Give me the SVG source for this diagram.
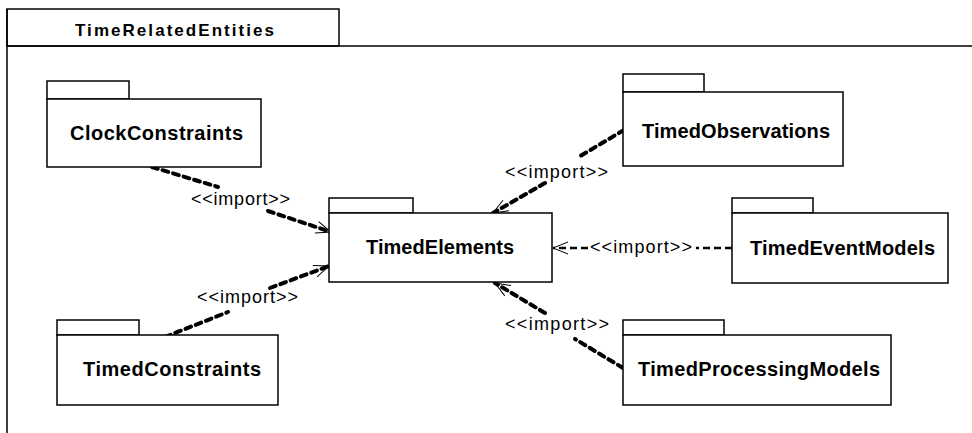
<svg xmlns="http://www.w3.org/2000/svg" width="972" height="433" viewBox="0 0 972 433">
<defs>
<style>
.box{fill:#fff;stroke:#000;stroke-width:1.5}
.frame{fill:none;stroke:#000;stroke-width:1.5}
.name{font-family:"Liberation Sans",Arial,sans-serif;font-weight:bold;font-size:20px;fill:#000}
.title{font-family:"Liberation Sans",Arial,sans-serif;font-weight:bold;font-size:17px;fill:#000}
.lbl{font-family:"Liberation Sans",Arial,sans-serif;font-size:18px;fill:#000}
.dep{fill:none;stroke:#000;stroke-width:4;stroke-dasharray:6 5;stroke-linecap:round}
.dep.thin{stroke-width:2.5;stroke-dasharray:7 4;stroke-linecap:butt}
</style>
<marker id="open" markerUnits="userSpaceOnUse" markerWidth="20" markerHeight="20" viewBox="-16 -10 20 20" refX="0" refY="0" orient="auto">
<path d="M-15,-6 L0,0 L-15,6" fill="none" stroke="#000" stroke-width="1" stroke-dasharray="none"/>
</marker>
</defs>
<rect width="972" height="433" fill="#fff"/>
<g id="frame">
<rect class="frame" x="7" y="9" width="332" height="37"/>
<path class="frame" d="M7,46 H972 M7,9 V433"/>
<text class="title" x="75" y="36" textLength="199" lengthAdjust="spacing">TimeRelatedEntities</text>
</g>
<g id="connectors">
<path class="dep" d="M152,167 L218,187"/>
<path class="dep" d="M268,211 L331,232" marker-end="url(#open)"/>
<text class="lbl" x="191" y="205" textLength="99" lengthAdjust="spacing">&lt;&lt;import&gt;&gt;</text>
<path class="dep" d="M165,337 L228,312"/>
<path class="dep" d="M270,288 L329,266" marker-end="url(#open)"/>
<text class="lbl" x="197" y="303" textLength="101" lengthAdjust="spacing">&lt;&lt;import&gt;&gt;</text>
<path class="dep" d="M624,130 L577,158"/>
<path class="dep" d="M545,183 L493,213" marker-end="url(#open)"/>
<text class="lbl" x="505" y="178" textLength="103" lengthAdjust="spacing">&lt;&lt;import&gt;&gt;</text>
<path class="dep thin" d="M732,248 L696,248"/>
<path class="dep thin" d="M588,248 L553,248" marker-end="url(#open)"/>
<text class="lbl" x="590" y="253" textLength="102" lengthAdjust="spacing">&lt;&lt;import&gt;&gt;</text>
<path class="dep" d="M623,368 L575,339"/>
<path class="dep" d="M545,313 L495,283" marker-end="url(#open)"/>
<text class="lbl" x="505" y="330" textLength="104" lengthAdjust="spacing">&lt;&lt;import&gt;&gt;</text>
</g>
<g id="ClockConstraints">
<rect class="box" x="47" y="81" width="82" height="18"/>
<rect class="box" x="47" y="99" width="214" height="68"/>
<text class="name" x="70" y="140" textLength="173" lengthAdjust="spacing">ClockConstraints</text>
</g>
<g id="TimedElements">
<rect class="box" x="329" y="198" width="84" height="15"/>
<rect class="box" x="329" y="213" width="223" height="69"/>
<text class="name" x="366" y="254" textLength="148" lengthAdjust="spacing">TimedElements</text>
</g>
<g id="TimedObservations">
<rect class="box" x="623" y="74" width="81" height="18"/>
<rect class="box" x="623" y="92" width="220" height="74"/>
<text class="name" x="642" y="138" textLength="188" lengthAdjust="spacing">TimedObservations</text>
</g>
<g id="TimedEventModels">
<rect class="box" x="732" y="198" width="81" height="15"/>
<rect class="box" x="732" y="213" width="216" height="70"/>
<text class="name" x="750" y="255" textLength="185" lengthAdjust="spacing">TimedEventModels</text>
</g>
<g id="TimedConstraints">
<rect class="box" x="57" y="320" width="82" height="15"/>
<rect class="box" x="57" y="335" width="221" height="70"/>
<text class="name" x="83" y="376" textLength="178" lengthAdjust="spacing">TimedConstraints</text>
</g>
<g id="TimedProcessingModels">
<rect class="box" x="623" y="320" width="101" height="15"/>
<rect class="box" x="623" y="335" width="268" height="70"/>
<text class="name" x="638" y="376" textLength="242" lengthAdjust="spacing">TimedProcessingModels</text>
</g>
</svg>
